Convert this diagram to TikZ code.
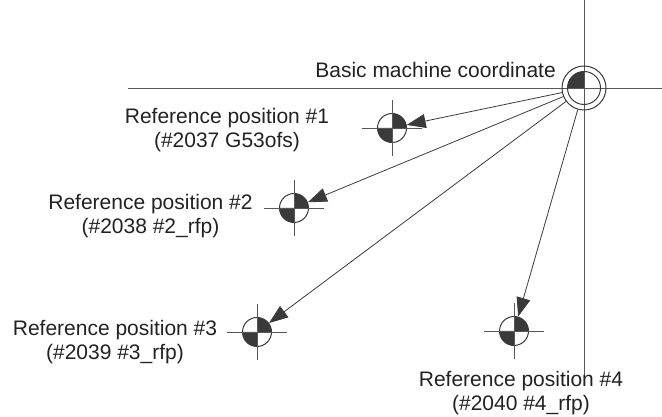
\documentclass[tikz,border=0pt]{standalone}
\usepackage{fontspec}
\setmainfont{Liberation Sans}
\usetikzlibrary{arrows.meta}
\definecolor{ink}{HTML}{3A3A3A}
\definecolor{txt}{HTML}{222222}
\newcommand\rr{14.5pt}
\newcommand\refmark[2]{%
  \fill[ink] (#2) -- ++(\rr,0) arc[start angle=0,end angle=90,radius=\rr] -- cycle;
  \fill[ink] (#2) -- ++(-\rr,0) arc[start angle=180,end angle=270,radius=\rr] -- cycle;
  \node[refc] (#1) at (#2) {};
  \draw[thinl] ([xshift=-30pt]#1.center) -- ([xshift=30pt]#1.center);
  \draw[thinl] ([yshift=-28pt]#1.center) -- ([yshift=28pt]#1.center);
}
\begin{document}
\begin{tikzpicture}[x=1pt,y=1pt,
  thinl/.style={draw=ink!85, line width=0.8pt},
  refc/.style={circle, draw=ink, line width=1pt, minimum size=29pt, inner sep=0pt},
  arrowline/.style={draw=ink, line width=0.8pt, -{Triangle[length=19pt,width=14pt]}},
  lbl/.style={text=txt, font=\fontsize{21}{24}\selectfont, align=center, inner sep=0pt, anchor=base}]
\useasboundingbox (0,0) rectangle (662,417);
% axes of the basic machine coordinate
\coordinate (hl) at (128,329);
\coordinate (hr) at (662,329);
\coordinate (vt) at (584,417);
\coordinate (vb) at (584,41);
\draw[thinl] (hl) -- (hr);
\draw[thinl] (vt) -- (vb);
% origin symbol
\fill[ink] (584,329) -- ++(-16.5pt,0) arc[start angle=180,end angle=90,radius=16.5pt] -- cycle;
\node[circle, draw=ink, line width=1pt, minimum size=33pt, inner sep=0pt] (Oi) at (584,329) {};
\node[circle, draw=ink, line width=1pt, minimum size=44pt, inner sep=0pt] (O) at (584,329) {};
% reference marks
\refmark{R1}{392,289}
\refmark{R2}{294,209}
\refmark{R3}{257,85}
\refmark{R4}{514,86}
% arrows
\draw[arrowline] (O) -- (R1);
\draw[arrowline] (O) -- (R2);
\draw[arrowline] (O) -- (R3);
\draw[arrowline] (O) -- (R4);
% labels (anchor = baseline of the second line)
\node[lbl, anchor=base east] (tO) at (556,339.3) {Basic machine coordinate};
\node[lbl] (t1) at (227,269.7) {Reference position \#1\\(\#2037 G53ofs)};
\node[lbl] (t2) at (150.5,183.7) {Reference position \#2\\(\#2038 \#2\_rfp)};
\node[lbl] (t3) at (115,57) {Reference position \#3\\(\#2039 \#3\_rfp)};
\node[lbl] (t4) at (521,6) {Reference position \#4\\(\#2040 \#4\_rfp)};
\end{tikzpicture}
\end{document}
